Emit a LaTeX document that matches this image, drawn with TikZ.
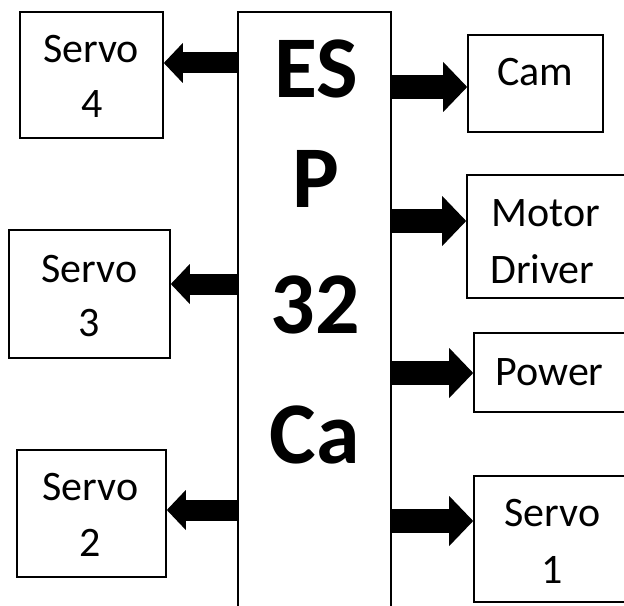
\documentclass[tikz,border=0pt]{standalone}
\usepackage{fontspec}
\setmainfont{Carlito}
\usetikzlibrary{arrows.meta,fit}
\tikzset{
  box/.style={draw,line width=1.2pt,inner sep=0pt},
  lbl/.style={inner sep=0pt,font=\fontsize{31.5}{36}\selectfont},
  bigtxt/.style={inner sep=0pt,font=\fontsize{66}{66}\selectfont\bfseries},
  larr/.style={line width=15.75pt,-{Triangle[length=14.25pt,width=30pt,line width=0pt]}},
  rarr/.style={line width=18pt,-{Triangle[length=18pt,width=37.5pt,line width=0pt]}}
}
\begin{document}
\begin{tikzpicture}[x=0.75pt,y=-0.75pt]
\useasboundingbox (0,0) rectangle (624,606);
\clip (0,0) rectangle (624,606);

\node[box,fit={(238,12) (391,640)}] (esp) {};
\node[bigtxt,anchor=base] (es) at (316.5,98) {ES};
\node[bigtxt,anchor=base] (p) at (315.5,207) {P};
\node[bigtxt,anchor=base] (n32) at (315,333) {32};
\node[bigtxt,anchor=base] (ca) at (314.5,463) {Ca};

\node[box,fit={(20,12) (163,138)}] (s4) {};
\node[lbl,anchor=base] (s4a) at (91,63) {Servo};
\node[lbl,anchor=base] (s4b) at (92,118) {4};

\node[box,fit={(9,230) (170,358)}] (s3) {};
\node[lbl,anchor=base] (s3a) at (89.5,282) {Servo};
\node[lbl,anchor=base] (s3b) at (89.5,336) {3};

\node[box,fit={(17,450) (166,577)}] (s2) {};
\node[lbl,anchor=base] (s2a) at (90.5,500) {Servo};
\node[lbl,anchor=base] (s2b) at (90.5,556) {2};

\node[box,fit={(468,35) (603,132)}] (cam) {};
\node[lbl,anchor=base] (cama) at (535.5,86) {Cam};

\node[box,fit={(467,175) (640,298)}] (mot) {};
\node[lbl,anchor=base west] (mota) at (491,226) {Motor};
\node[lbl,anchor=base west] (motb) at (490,283) {Driver};

\node[box,fit={(474,333) (640,412)}] (pwr) {};
\node[lbl,anchor=base] (pwra) at (549.5,385) {Power};

\node[box,fit={(474,476) (640,602)}] (s1) {};
\node[lbl,anchor=base] (s1a) at (552.5,526) {Servo};
\node[lbl,anchor=base] (s1b) at (552.5,583) {1};

\coordinate (y4) at (0,63);
\coordinate (y3) at (0,284);
\coordinate (y2) at (0,510);
\coordinate (ycam) at (0,87);
\coordinate (ymot) at (0,221);
\coordinate (ypwr) at (0,373);
\coordinate (y1) at (0,521);

\draw[larr] (esp.west |- y4) -- (s4.east |- y4);
\draw[larr] (esp.west |- y3) -- (s3.east |- y3);
\draw[larr] (esp.west |- y2) -- (s2.east |- y2);
\draw[rarr] (esp.east |- ycam) -- (cam.west |- ycam);
\draw[rarr] (esp.east |- ymot) -- (mot.west |- ymot);
\draw[rarr] (esp.east |- ypwr) -- (pwr.west |- ypwr);
\draw[rarr] (esp.east |- y1) -- (s1.west |- y1);
\end{tikzpicture}
\end{document}
